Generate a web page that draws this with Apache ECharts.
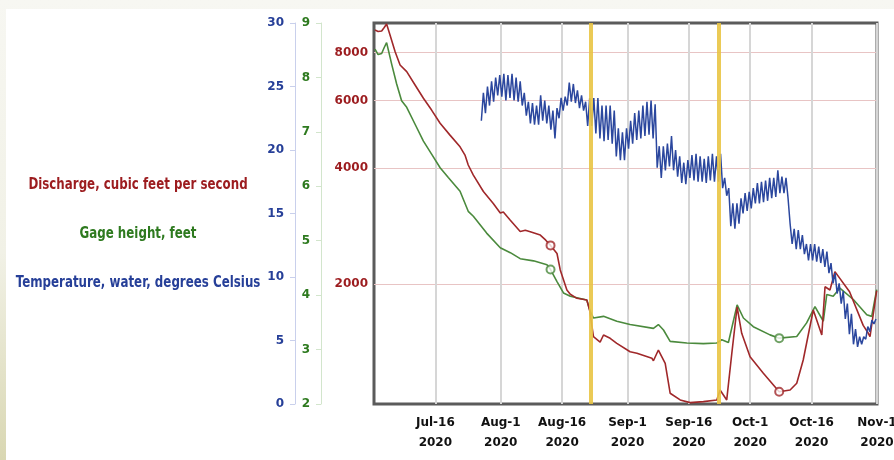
<!DOCTYPE html>
<html><head><meta charset="utf-8">
<script src="https://cdn.jsdelivr.net/npm/echarts@6/dist/echarts.min.js"></script>
<style>
html,body{margin:0;padding:0;width:894px;height:460px;overflow:hidden;background:linear-gradient(to bottom,#f7f7f2,#f1f1e6 55%,#d9d7b2);}
#panel{position:absolute;left:6px;top:9px;right:0;bottom:0;background:#fff;}
#chart{position:absolute;left:0;top:0;width:894px;height:460px;}
</style></head><body><div id="panel"></div><div id="chart"></div>
<script>
// ---- data (year 2020, 'MM-DD HH') ----
const dischargeCfs = [['07-01 06',9160],['07-02 00',9080],['07-02 21',9110],['07-03 12',9300],['07-04 02',9500],['07-04 22',8890],['07-06 04',8045],['07-07 09',7430],['07-09 00',7140],['07-11 01',6590],['07-13 02',6085],['07-15 02',5670],['07-17 04',5240],['07-19 14',4880],['07-22 01',4550],['07-23 06',4330],['07-24 01',4080],['07-25 07',3840],['07-27 18',3480],['07-30 04',3240],['07-31 21',3060],['08-01 15',3080],['08-03 08',2930],['08-05 18',2740],['08-07 00',2760],['08-08 05',2735],['08-10 16',2680],['08-12 00',2600],['08-13 04',2520],['08-14 18',2400],['08-15 13',2175],['08-17 04',1930],['08-18 00',1880],['08-19 15',1835],['08-22 01',1817],['08-22 17',1711],['08-23 16',1458],['08-25 07',1412],['08-26 03',1473],['08-27 18',1444],['08-29 09',1401],['09-01 15',1332],['09-03 07',1320],['09-06 23',1281],['09-07 08',1262],['09-08 13',1346],['09-10 05',1243],['09-11 10',1039],['09-13 21',998],['09-16 07',982],['09-19 13',988],['09-22 20',998],['09-23 15',1059],['09-25 06',998],['09-26 12',1320],['09-27 19',1742],['09-28 22',1488],['09-30 23',1293],['10-04 05',1171],['10-06 16',1092],['10-08 02',1048],['10-08 12',1040],['10-10 18',1059],['10-12 09',1103],['10-13 23',1268],['10-16 10',1711],['10-16 20',1694],['10-18 12',1473],['10-19 07',1967],['10-20 12',1929],['10-21 17',2153],['10-25 07',1909],['10-28 15',1560],['10-29 21',1488],['10-30 07',1458],['10-31 22',1920]];

const gageFt = [['07-01 06',8.52],['07-02 00',8.42],['07-02 21',8.44],['07-03 12',8.55],['07-04 02',8.64],['07-05 08',8.24],['07-06 13',7.88],['07-07 18',7.57],['07-09 00',7.45],['07-11 01',7.14],['07-13 02',6.83],['07-15 02',6.59],['07-17 04',6.34],['07-19 04',6.16],['07-22 01',5.91],['07-24 01',5.54],['07-25 07',5.45],['07-28 13',5.14],['07-31 21',4.87],['08-03 08',4.78],['08-05 18',4.67],['08-09 00',4.63],['08-12 07',4.56],['08-13 04',4.47],['08-14 18',4.25],['08-16 08',4.04],['08-18 00',3.98],['08-22 01',3.91],['08-22 21',3.70],['08-23 16',3.58],['08-26 03',3.61],['08-29 09',3.52],['09-01 15',3.46],['09-07 08',3.39],['09-08 13',3.46],['09-09 19',3.36],['09-11 10',3.15],['09-15 12',3.12],['09-19 13',3.11],['09-22 20',3.12],['09-24 01',3.18],['09-25 16',3.13],['09-27 19',3.82],['09-29 08',3.58],['10-01 18',3.42],['10-05 20',3.27],['10-08 02',3.21],['10-12 09',3.24],['10-14 19',3.49],['10-16 20',3.79],['10-18 21',3.52],['10-19 17',4.01],['10-21 07',3.98],['10-22 22',4.13],['10-26 05',3.92],['10-29 12',3.64],['10-30 17',3.61],['10-31 22',4.10]];

// water temperature, every 12 hours from tempStart (morning low, evening high)
const tempStart = '07-27 06';
const tempC = [22.3,24.5, 22.9,25.0, 23.5,25.4, 23.8,25.7, 24.3,25.9, 24.2,26.0, 23.9,25.9, 24.1,26.0, 23.9,25.7, 23.8,25.4,
 23.5,24.5, 22.7,23.8, 22.1,23.7, 22.0,23.5, 22.0,24.3, 22.3,23.9, 22.1,23.5, 21.6,23.1, 20.9,23.3, 22.5,24.1,
 23.1,24.2, 23.5,25.3, 23.8,25.2, 23.7,24.7, 23.3,24.3, 23.1,23.8, 21.9,24.1, 21.9,24.1, 21.3,24.1, 20.9,23.5,
 20.7,23.5, 20.8,23.5, 20.5,23.1, 19.5,21.7, 19.2,21.4, 19.2,21.7, 20.1,22.3, 20.5,22.9, 20.8,23.1, 20.9,23.5,
 21.1,23.8, 21.2,23.9, 20.9,23.6, 18.6,20.3, 17.8,20.3, 18.4,20.5, 18.7,21.1, 18.4,20.0, 17.9,19.5, 17.4,19.0,
 17.3,19.2, 17.8,19.6, 17.6,19.7, 17.5,19.5, 17.5,19.3, 17.4,19.5, 17.6,19.7, 17.5,19.5, 17.5,19.7, 17.0,17.8,
 16.4,17.0, 14.0,15.8, 13.8,15.8, 14.2,16.2, 15.0,16.6, 15.2,16.7, 15.4,17.0, 15.8,17.4, 15.8,17.5, 15.9,17.6,
 16.0,17.8, 16.2,17.8, 16.3,18.4, 16.6,17.9, 16.6,17.8, 16.2,14.2, 12.6,13.8, 12.2,13.7, 12.2,13.3, 11.8,12.6,
 11.3,12.6, 11.3,12.6, 11.2,12.4, 11.1,12.2, 10.8,12.0, 10.3,11.1, 9.5,10.3, 8.7,9.5, 7.9,8.9, 6.7,7.9,
 5.5,7.1, 4.7,5.9, 4.5,5.3, 4.7,5.3, 5.1,6.1, 5.7,6.6, 6.3,6.7];

const dischargeMarkers = [['08-13 04',2520],['10-08 02',1048]];
const gageMarkers = [['08-13 04',4.47],['10-08 02',3.21]];
const eventDates = ['08-23 02','09-23 09'];

const dateTicks = ['07-16 00','08-01 00','08-16 00','09-01 00','09-16 00','10-01 00','10-16 00','11-01 00'];
const dateTickLabels = ['Jul-16\n2020','Aug-1\n2020','Aug-16\n2020','Sep-1\n2020','Sep-16\n2020','Oct-1\n2020','Oct-16\n2020','Nov-1\n2020'];
const dischargeTicks = [2000,4000,6000,8000];
const dischargeRange = [974, 9555];
const tempRange = [0, 30];
const gageRange = [2, 9];
const legendLabels = ['Discharge, cubic feet per second','Gage height, feet','Temperature, water, degrees Celsius'];

// ---- helpers ----
function ts(s){ const [md,h]=s.split(' '); const [m,d]=md.split('-').map(Number); return new Date(2020,m-1,d,Number(h||0)).getTime(); }
const HOUR = 3600*1000;
const tickTimes = dateTicks.map(ts);
const lg = Math.log10;

const RED='#a0282a', GREEN='#4b8a3d', BLUE='#2b479e';
const RED_T='#9c1c1f', GREEN_T='#2e7a1f', BLUE_T='#263f98';
const FONT='DejaVu Sans';

const t0 = ts(tempStart);
const tempSeries = tempC.map((v,i)=>[t0 + i*12*HOUR, v]);

const chart = echarts.init(document.getElementById('chart'), null, {renderer:'canvas'});
chart.setOption({
  animation:false,
  grid:{left:374, top:23, width:503, height:381, show:true, borderColor:'#5b5b5b', borderWidth:3, backgroundColor:'#fff',
        containLabel:false, outerBoundsMode:'none'},
  xAxis:{
    type:'value', min:ts('07-01 00'), max:ts('11-01 00'),
    axisLine:{show:false},
    axisTick:{show:false, customValues:tickTimes},
    axisLabel:{customValues:tickTimes, hideOverlap:false, color:'#111', fontWeight:'bold', fontSize:12, fontFamily:FONT, lineHeight:20, margin:9,
      formatter:(v)=>{ let best=0; tickTimes.forEach((t,i)=>{ if(Math.abs(t-v)<Math.abs(tickTimes[best]-v)) best=i; }); return dateTickLabels[best]; }},
    splitLine:{show:true, lineStyle:{color:'#d6d6d6', width:2}}
  },
  yAxis:[
    {type:'value', position:'left', min:lg(dischargeRange[0]), max:lg(dischargeRange[1]),
     axisLine:{show:false}, axisTick:{show:false, customValues:dischargeTicks.map(lg)},
     axisLabel:{customValues:dischargeTicks.map(lg), color:RED_T, fontWeight:'bold', fontSize:12, fontFamily:FONT, margin:6,
       formatter:(v)=>String(Math.round(Math.pow(10,v)/10)*10)},
     splitLine:{show:true, lineStyle:{color:'#e8c4c4', width:1}}},
    {type:'value', position:'left', offset:79, min:tempRange[0], max:tempRange[1], interval:5,
     axisLine:{show:true, lineStyle:{color:'#c9d0ec', width:1}}, axisTick:{show:true, length:5, lineStyle:{color:'#c9d0ec'}},
     axisLabel:{color:BLUE_T, fontWeight:'bold', fontSize:12, fontFamily:FONT, margin:11}, splitLine:{show:false}},
    {type:'value', position:'left', offset:53, min:gageRange[0], max:gageRange[1], interval:1,
     axisLine:{show:true, lineStyle:{color:'#d2e5cc', width:1}}, axisTick:{show:true, length:5, lineStyle:{color:'#d2e5cc'}},
     axisLabel:{color:GREEN_T, fontWeight:'bold', fontSize:12, fontFamily:FONT, margin:11}, splitLine:{show:false}}
  ],
  graphic: legendLabels.map((t,i)=>({type:'text', x:138, y:185+49*i, scaleX:0.79, scaleY:1,
     style:{text:t, fill:[RED_T,GREEN_T,BLUE_T][i], font:'bold 15px "DejaVu Sans"', textAlign:'center', textVerticalAlign:'middle'}})),
  series:[
    {name:'Gage height', type:'line', yAxisIndex:2, showSymbol:false, data:gageFt.map(d=>[ts(d[0]),d[1]]),
     lineStyle:{color:GREEN, width:1.6}, itemStyle:{color:GREEN}, z:2},
    {name:'Discharge', type:'line', yAxisIndex:0, showSymbol:false, data:dischargeCfs.map(d=>[ts(d[0]),lg(d[1])]),
     lineStyle:{color:RED, width:1.6}, itemStyle:{color:RED}, z:3},
    {name:'Temperature', type:'line', yAxisIndex:1, showSymbol:false, data:tempSeries,
     lineStyle:{color:BLUE, width:1.5}, itemStyle:{color:BLUE}, z:4},
    {name:'events', type:'line', yAxisIndex:1, data:[], z:6, silent:true,
     markLine:{symbol:'none', silent:true, label:{show:false},
       lineStyle:{color:'#e9c444', width:4, type:'solid', opacity:0.9},
       data:eventDates.map(d=>({xAxis:ts(d)}))}},
    {name:'dmark', type:'scatter', yAxisIndex:0, data:dischargeMarkers.map(d=>[ts(d[0]),lg(d[1])]), symbol:'circle', symbolSize:8,
     itemStyle:{color:'#fff', borderColor:RED, borderWidth:2}, z:7},
    {name:'gmark', type:'scatter', yAxisIndex:2, data:gageMarkers.map(d=>[ts(d[0]),d[1]]), symbol:'circle', symbolSize:8,
     itemStyle:{color:'#fff', borderColor:GREEN, borderWidth:2}, z:7}
  ]
});
</script></body></html>
